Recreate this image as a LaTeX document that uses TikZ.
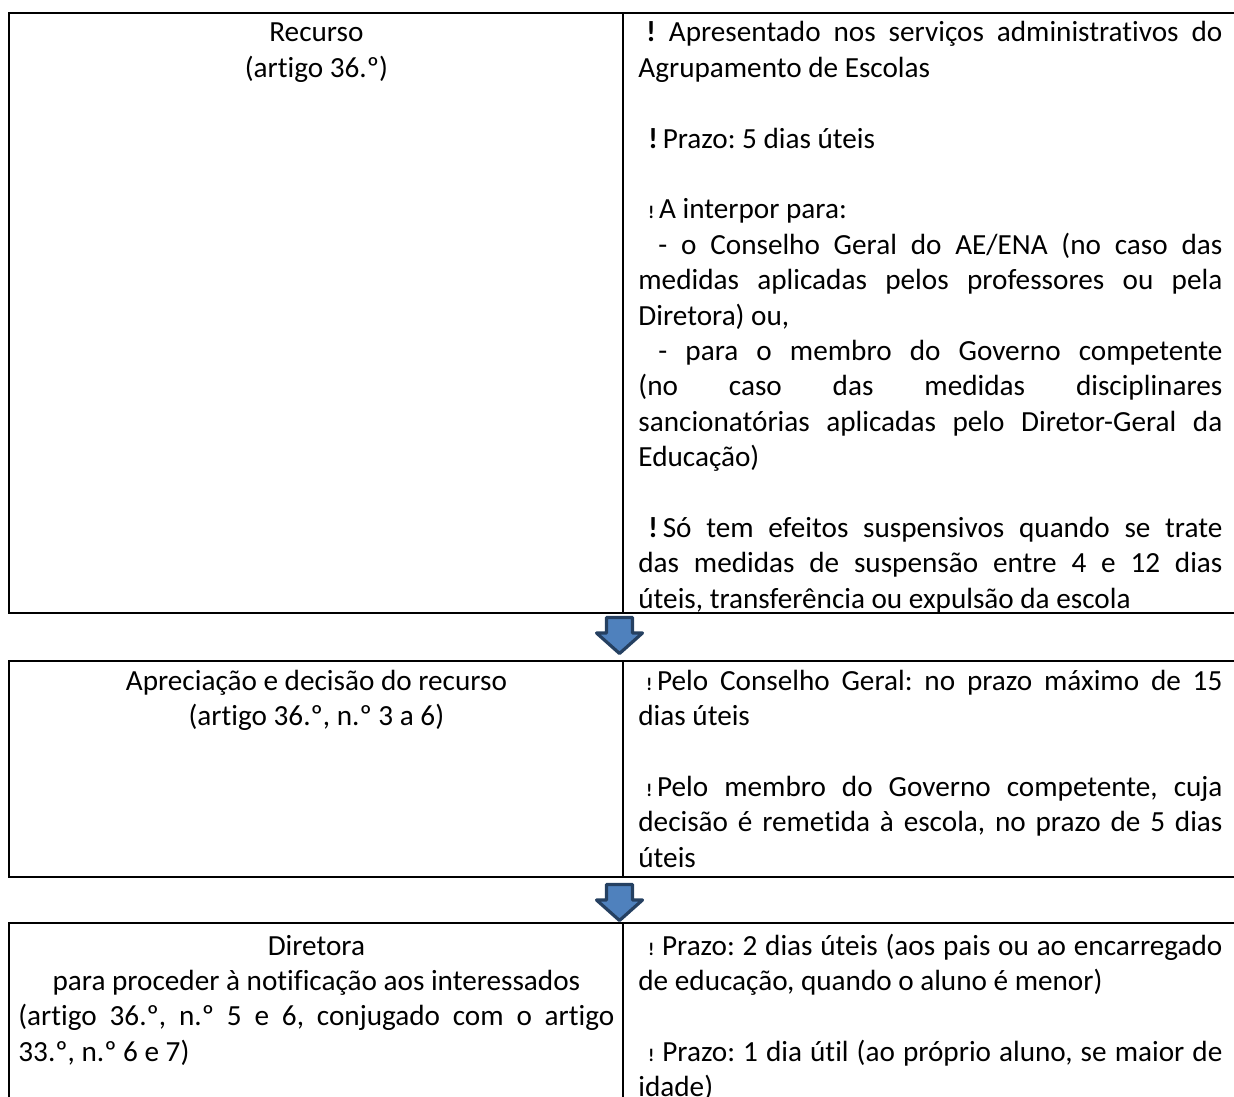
\documentclass[tikz,border=0pt]{standalone}
\usepackage{fontspec}
\setmainfont{Carlito}[Ligatures=CommonOff]
\usepackage{tikz}
\usetikzlibrary{positioning}

\definecolor{arrowfill}{RGB}{79,129,189}
\definecolor{arrowline}{RGB}{37,64,97}

\newcommand{\cellfont}{\fontsize{14.6}{17.7}\selectfont\frenchspacing}
\newcommand{\bang}{{\bfseries !}}
\newcommand{\sbang}{{\bfseries\small !}}

\tikzset{
  cell/.style={draw, line width=0.8pt},
  plainspaces/.style={execute at begin node={\spaceskip=0pt\xspaceskip=0pt}},
  lefttext/.style={anchor=base west, inner sep=0pt, text width=298pt, align=flush center, font=\cellfont, plainspaces},
  bodytext/.style={anchor=base west, inner sep=0pt, align=justify, font=\cellfont, plainspaces},
  blockarrow/.style={draw=arrowline, fill=arrowfill, line width=1.6pt, line join=round}
}

\begin{document}
\begin{tikzpicture}[x=0.5pt, y=-0.5pt]
\clip (0,0) rectangle (1234,1096);

% boxes
\draw[cell] (9,13) rectangle (1245,613);
\draw[cell] (623,13) -- (623,613);
\draw[cell] (9,661) rectangle (1245,877);
\draw[cell] (623,661) -- (623,877);
\draw[cell] (9,923) rectangle (1245,1130);
\draw[cell] (623,923) -- (623,1130);

% arrows between the boxes
\draw[blockarrow] (606.5,617.5) -- (632.5,617.5) -- (632.5,633) -- (642.5,633)
  -- (619.5,653.5) -- (596.5,633) -- (606.5,633) -- cycle;
\draw[blockarrow] (606.5,884.5) -- (632.5,884.5) -- (632.5,900) -- (642.5,900)
  -- (619.5,920.5) -- (596.5,900) -- (606.5,900) -- cycle;

% row 1
\node[lefttext] (recurso) at (18,42) {Recurso\\(artigo 36.º)};
\node[bodytext, text width=292pt] (recursoinfo) at (638,42) {%
  \parskip=17.7pt
  \hspace*{4pt}\bang\ Apresentado nos serviços administrativos do\linebreak Agrupamento de Escolas\par
  \hspace*{5pt}\bang\,Prazo: 5 dias úteis\par
  \hspace*{5pt}\sbang\,A interpor para:\newline
  \hspace*{10pt}- o Conselho Geral do AE/ENA (no caso das\linebreak medidas aplicadas pelos professores ou pela\linebreak Diretora) ou,\newline
  \hspace*{10pt}- para o membro do Governo competente\linebreak (no caso das medidas disciplinares\linebreak sancionatórias aplicadas pelo Diretor-Geral da\linebreak Educação)\par
  \hspace*{5pt}\bang\,Só tem efeitos suspensivos quando se trate\linebreak das medidas de suspensão entre 4 e 12 dias\linebreak úteis, transferência ou expulsão da escola};

% row 2
\node[lefttext] (apreciacao) at (18,690) {Apreciação e decisão do recurso\\(artigo 36.º, n.º 3 a 6)};
\node[bodytext, text width=292pt] (apreciacaoinfo) at (638,690) {%
  \parskip=17.7pt
  \hspace*{4pt}\sbang\,Pelo Conselho Geral: no prazo máximo de 15\linebreak dias úteis\par
  \hspace*{4pt}\sbang\,Pelo membro do Governo competente, cuja\linebreak decisão é remetida à escola, no prazo de 5 dias\linebreak úteis};

% row 3
\node[bodytext, text width=298pt] (diretora) at (18,955) {%
  {\centering Diretora\\para proceder à notificação aos interessados\par}
  (artigo 36.º, n.º 5 e 6, conjugado com o artigo\linebreak 33.º, n.º 6 e 7)};
\node[bodytext, text width=292pt] (diretorainfo) at (638,955) {%
  \parskip=17.7pt
  \hspace*{5pt}\sbang\ Prazo: 2 dias úteis (aos pais ou ao encarregado\linebreak de educação, quando o aluno é menor)\par
  \hspace*{5pt}\sbang\ Prazo: 1 dia útil (ao próprio aluno, se maior de\linebreak idade)};
\end{tikzpicture}
\end{document}
